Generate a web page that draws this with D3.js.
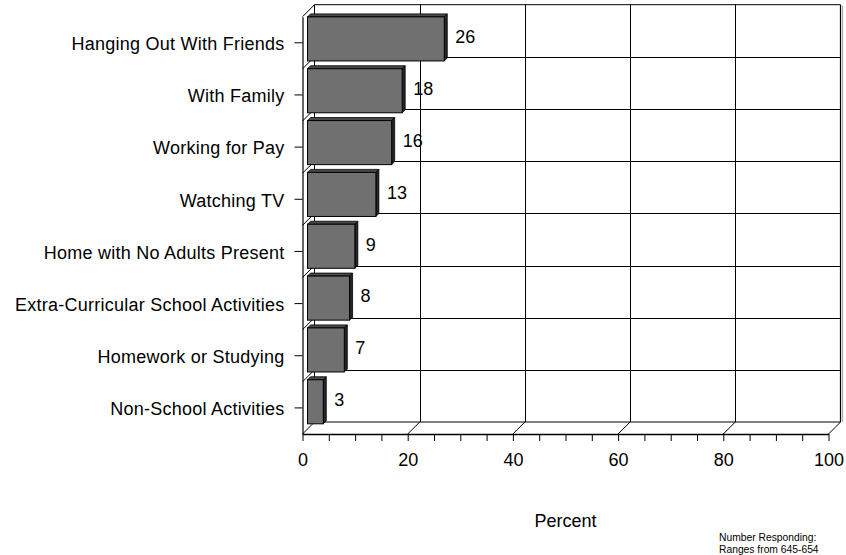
<!DOCTYPE html>
<html>
<head>
<meta charset="utf-8">
<script src="https://cdn.jsdelivr.net/npm/d3@7"></script>
<style>
  html, body { margin: 0; padding: 0; background: #fff; }
  svg { display: block; font-family: "Liberation Sans", Arial, sans-serif; }
</style>
</head>
<body>
<svg id="chart" width="846" height="555"></svg>
<script>
const categories = [
  "Hanging Out With Friends",
  "With Family",
  "Working for Pay",
  "Watching TV",
  "Home with No Adults Present",
  "Extra-Curricular School Activities",
  "Homework or Studying",
  "Non-School Activities"
];
const values = [26, 18, 16, 13, 9, 8, 7, 3];
const majorTicks = [0, 20, 40, 60, 80, 100];
const minorTicks = [0, 5, 10, 15, 20, 25, 30, 35, 40, 45, 50, 55, 60, 65, 70, 75, 80, 85, 90, 95, 100];
const axisTitle = "Percent";
const footnote = ["Number Responding:", "Ranges from 645-654"];

const svg = d3.select("#chart");
const depth = 12;          // wall depth offset (px)
const barFront = 5;        // bar front face depth offset
const barDepth = 3;        // bar thickness
const plotTop = 16.7, plotBottom = 434;
const x = d3.scaleLinear().domain([0, 100]).range([302.5, 828.5]);
const yCat = d3.scaleBand().domain(categories).range([plotTop, plotBottom]);
const yBar = d3.scaleBand().domain(categories).range([plotTop, plotBottom]).paddingInner(0.15).paddingOuter(0.1);

const g = svg.append("g");
const line = (x1, y1, x2, y2, w = 1, c = "#000") =>
  g.append("line").attr("x1", x1).attr("y1", y1).attr("x2", x2).attr("y2", y2)
   .attr("stroke", c).attr("stroke-width", w);

// back wall
const bx0 = x(0) + depth, bx1 = x(100) + depth, by0 = plotTop - depth, by1 = plotBottom - depth;
line(bx1 + 2, by0 + 1, bx1 + 2, by1, 1.2, "#aaa");
line(bx0, by0, bx1, by0);
line(bx0, by0, bx0, by1);
line(bx1, by0, bx1, by1, 1.2);
// horizontal gridlines on back wall (category boundaries)
categories.slice(1).forEach(c => {
  const yy = Math.round(yCat(c) - depth) + 0.5;
  line(bx0, yy, bx1, yy);
});
// vertical gridlines on back wall
majorTicks.slice(1, -1).forEach(t => {
  const xx = Math.round(x(t) + depth) + 0.5;
  line(xx, by0, xx, by1);
});
// left wall diagonals
categories.forEach(c => {
  line(x(0), yCat(c), x(0) + depth, yCat(c) - depth);
});
// floor
line(bx0, by1, bx1, by1);
majorTicks.forEach(t => line(x(t), plotBottom, x(t) + depth, plotBottom - depth));

// bars
const bars = g.selectAll("g.bar").data(categories.map((c, i) => ({ c, v: values[i] })))
  .enter().append("g").attr("class", "bar");
bars.each(function(d) {
  const sel = d3.select(this);
  const x0 = x(0) + barFront, x1 = x(d.v) + barFront;
  const y0 = yBar(d.c) - barFront, h = yBar.bandwidth();
  sel.append("polygon")
    .attr("points", [[x0, y0], [x0 + barDepth, y0 - barDepth], [x1 + barDepth, y0 - barDepth], [x1, y0]].join(" "))
    .attr("fill", "#4a4a4a").attr("stroke", "#000").attr("stroke-width", 0.8);
  sel.append("polygon")
    .attr("points", [[x1, y0], [x1 + barDepth, y0 - barDepth], [x1 + barDepth, y0 + h - barDepth], [x1, y0 + h]].join(" "))
    .attr("fill", "#262626").attr("stroke", "#000").attr("stroke-width", 0.8);
  sel.append("rect")
    .attr("x", x0).attr("y", y0).attr("width", x1 - x0).attr("height", h)
    .attr("fill", "#707070").attr("stroke", "#000").attr("stroke-width", 1);
  sel.append("text")
    .attr("x", x1 + barDepth + 8).attr("y", y0 + h / 2 - 2)
    .attr("dy", "0.35em").attr("font-size", 18).attr("fill", "#000")
    .text(d.v);
});

// y axis (front left edge)
const yAxis = d3.axisLeft(yCat).tickSize(8).tickSizeOuter(0).tickPadding(10);
const ya = svg.append("g").attr("transform", `translate(${x(0)},0)`).call(yAxis);
ya.select(".domain").attr("stroke", "#000").attr("stroke-width", 1.2);
ya.selectAll(".tick line").attr("stroke", "#000");
ya.selectAll(".tick text").attr("font-size", 18).attr("font-family", "Liberation Sans, Arial, sans-serif")
  .attr("fill", "#000").attr("y", 1.5).style("letter-spacing", "0.25px");

// x axis (front floor edge)
const xAxis = d3.axisBottom(x).tickValues(minorTicks)
  .tickFormat(d => majorTicks.includes(d) ? d : "")
  .tickSize(7).tickSizeOuter(0).tickPadding(12);
const xa = svg.append("g").attr("transform", `translate(0,${plotBottom})`).call(xAxis);
xa.select(".domain").attr("stroke", "#000").attr("stroke-width", 1.5);
xa.selectAll(".tick line").attr("stroke", "#000");
xa.selectAll(".tick text").attr("font-size", 18).attr("font-family", "Liberation Sans, Arial, sans-serif").attr("fill", "#000");

// axis title
svg.append("text").attr("x", (x(0) + x(100)) / 2).attr("y", 527)
  .attr("text-anchor", "middle").attr("font-size", 18).attr("fill", "#000").text(axisTitle);

// footnote
svg.selectAll("text.foot").data(footnote).enter().append("text").attr("class", "foot")
  .attr("x", 719).attr("y", (d, i) => 541 + i * 12)
  .attr("font-size", 10.3).attr("fill", "#000").text(d => d);
</script>
</body>
</html>
